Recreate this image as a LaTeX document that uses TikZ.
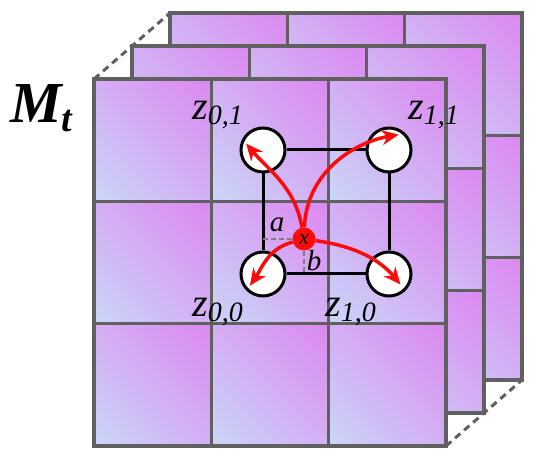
\documentclass[tikz,border=0pt]{standalone}
\usepackage{fontspec}
\setmainfont{Liberation Serif}
\usetikzlibrary{arrows.meta}
\definecolor{cellblue}{HTML}{C8DEF8}
\definecolor{cellpink}{HTML}{DE80F0}
\definecolor{gridgray}{HTML}{606060}
\definecolor{dotred}{HTML}{FF0A0A}
\pgfdeclareverticalshading{cellfade}{100bp}{color(0bp)=(cellblue); color(8bp)=(cellblue); color(92bp)=(cellpink); color(100bp)=(cellpink)}
\newcommand{\zlab}[1]{\fontsize{40}{40}\selectfont\textit{z}\raisebox{-5pt}{\fontsize{28}{28}\selectfont\textit{#1}}}

\begin{document}
\begin{tikzpicture}[x=1pt, y=1pt,
    cell/.style={shading=cellfade, shading angle=-45},
    gridline/.style={draw=gridgray, line width=3.5pt},
    depth/.style={gridgray, line width=3pt, dash pattern=on 7pt off 5pt},
    corner/.style={circle, draw=black, fill=white, line width=3pt, minimum size=44pt, inner sep=0pt},
    link/.style={black, line width=3pt},
    sample/.style={circle, fill=dotred, minimum size=23pt, inner sep=0pt, font=\fontsize{22}{22}\selectfont\itshape},
    weight/.style={dotred, line width=3.5pt, -{Stealth[length=17pt, width=15pt]}},
    offset/.style={gray, line width=2.5pt, dash pattern=on 5pt off 3pt},
    zlabel/.style={anchor=base west, inner sep=0pt}
]
\useasboundingbox (0,0) rectangle (538,465);

\draw[depth] (94,386) -- (170,452);
\draw[depth] (446,386) -- (522,452);
\draw[depth] (446,19) -- (522,85);

\foreach \dx/\dy in {76/66, 38/33, 0/0} {
  \begin{scope}[shift={(94+\dx,19+\dy)}]
    \foreach \i in {0,1,2}
      \foreach \j in {0,1,2}
        \shade[cell] (\i*117.33,\j*122.33) rectangle ++(117.33,122.33);
    \draw[gridline] (0,0) rectangle (352,367);
    \foreach \k in {1,2} {
      \draw[gridline] (\k*117.33,0) -- ++(0,367);
      \draw[gridline] (0,\k*122.33) -- ++(352,0);
    }
  \end{scope}
}

\node[anchor=base west, inner sep=0pt] (mt) at (10,342)
  {\fontsize{58}{58}\selectfont\bfseries\itshape M\raisebox{-9pt}{\fontsize{38}{38}\selectfont t}};

\node[corner] (z01) at (263,315) {};
\node[corner] (z11) at (389,315) {};
\node[corner] (z00) at (263,191) {};
\node[corner] (z10) at (389,191) {};

\draw[link] (z01) -- (z11);
\draw[link] (z00) -- (z10);
\draw[link] (z01) -- (z00);
\draw[link] (z11) -- (z10);

\node[zlabel] (l01) at (192,345) {\zlab{0,1}};
\node[zlabel] (l11) at (408,345) {\zlab{1,1}};
\node[zlabel] (l00) at (192,148) {\zlab{0,0}};
\node[zlabel] (l10) at (325,148) {\zlab{1,0}};

\node[sample] (x) at (304,226) {x};
\coordinate (aend) at (262,226);
\coordinate (bend) at (304,192);
\draw[offset] (x) -- (aend);
\draw[offset] (x) -- (bend);
\node[font=\fontsize{29}{29}\selectfont\itshape] (a) at (277,240) {a};
\node[font=\fontsize{29}{29}\selectfont\itshape] (b) at (314,204) {b};

\draw[weight, shorten >=6pt] (x) to[out=100, in=-50] (z01.152);
\draw[weight, shorten >=7pt] (x) to[out=88, in=-170] (z11.45);
\draw[weight, shorten >=6pt] (x) to[out=195, in=55] (z00.225);
\draw[weight, shorten >=8pt] (x) to[out=-8, in=130] (z10.-45);

\end{tikzpicture}
\end{document}
